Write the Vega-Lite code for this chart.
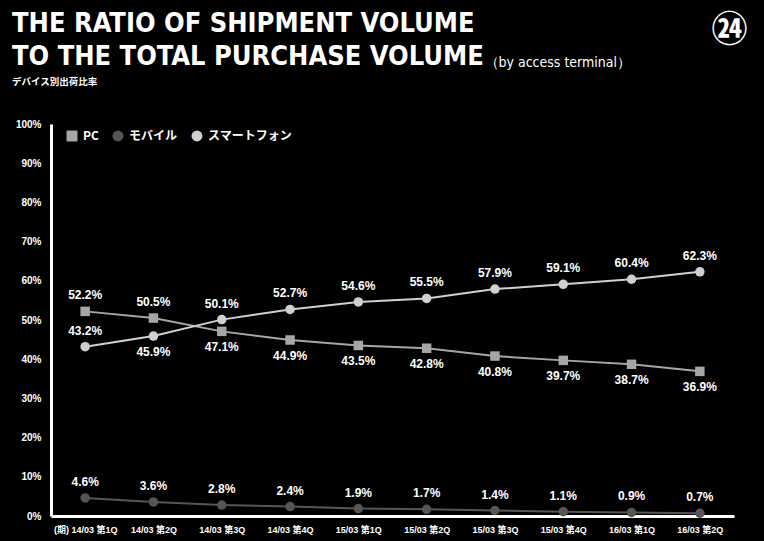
{
  "$schema": "https://vega.github.io/schema/vega-lite/v6.json",
  "width": 683,
  "height": 392,
  "autosize": {"type": "none"},
  "padding": {"left": 51, "top": 124, "right": 30, "bottom": 25},
  "background": "#000000",
  "title": {
    "text": ["THE RATIO OF SHIPMENT VOLUME", "TO THE TOTAL PURCHASE VOLUME"],
    "subtitle": "デバイス別出荷比率",
    "anchor": "start",
    "frame": "group",
    "dx": -39,
    "dy": 105,
    "offset": 30,
    "font": "DejaVu Sans Condensed, sans-serif",
    "fontSize": 27,
    "fontWeight": "bold",
    "lineHeight": 33,
    "color": "#ffffff",
    "subtitleFont": "Noto Sans CJK JP",
    "subtitleFontSize": 9.5,
    "subtitleFontWeight": "bold",
    "subtitleColor": "#ffffff",
    "subtitlePadding": 6
  },
  "config": {
    "view": {"stroke": null},
    "font": "Liberation Sans, Noto Sans CJK JP, sans-serif"
  },
  "data": {
    "values": [
      {"q": "14/03 第1Q", "s": "PC", "v": 52.2},
      {"q": "14/03 第2Q", "s": "PC", "v": 50.5},
      {"q": "14/03 第3Q", "s": "PC", "v": 47.1},
      {"q": "14/03 第4Q", "s": "PC", "v": 44.9},
      {"q": "15/03 第1Q", "s": "PC", "v": 43.5},
      {"q": "15/03 第2Q", "s": "PC", "v": 42.8},
      {"q": "15/03 第3Q", "s": "PC", "v": 40.8},
      {"q": "15/03 第4Q", "s": "PC", "v": 39.7},
      {"q": "16/03 第1Q", "s": "PC", "v": 38.7},
      {"q": "16/03 第2Q", "s": "PC", "v": 36.9},
      {"q": "14/03 第1Q", "s": "モバイル", "v": 4.6},
      {"q": "14/03 第2Q", "s": "モバイル", "v": 3.6},
      {"q": "14/03 第3Q", "s": "モバイル", "v": 2.8},
      {"q": "14/03 第4Q", "s": "モバイル", "v": 2.4},
      {"q": "15/03 第1Q", "s": "モバイル", "v": 1.9},
      {"q": "15/03 第2Q", "s": "モバイル", "v": 1.7},
      {"q": "15/03 第3Q", "s": "モバイル", "v": 1.4},
      {"q": "15/03 第4Q", "s": "モバイル", "v": 1.1},
      {"q": "16/03 第1Q", "s": "モバイル", "v": 0.9},
      {"q": "16/03 第2Q", "s": "モバイル", "v": 0.7},
      {"q": "14/03 第1Q", "s": "スマートフォン", "v": 43.2},
      {"q": "14/03 第2Q", "s": "スマートフォン", "v": 45.9},
      {"q": "14/03 第3Q", "s": "スマートフォン", "v": 50.1},
      {"q": "14/03 第4Q", "s": "スマートフォン", "v": 52.7},
      {"q": "15/03 第1Q", "s": "スマートフォン", "v": 54.6},
      {"q": "15/03 第2Q", "s": "スマートフォン", "v": 55.5},
      {"q": "15/03 第3Q", "s": "スマートフォン", "v": 57.9},
      {"q": "15/03 第4Q", "s": "スマートフォン", "v": 59.1},
      {"q": "16/03 第1Q", "s": "スマートフォン", "v": 60.4},
      {"q": "16/03 第2Q", "s": "スマートフォン", "v": 62.3}
    ]
  },
  "transform": [
    {"calculate": "format(datum.v, '.1f') + '%'", "as": "lbl"}
  ],
  "encoding": {
    "x": {
      "field": "q",
      "type": "ordinal",
      "sort": null,
      "scale": {"type": "point", "padding": 0.5},
      "axis": {
        "title": "㉔",
        "titleX": 678,
        "titleY": -486,
        "titleAngle": 0,
        "titleAlign": "center",
        "titleBaseline": "middle",
        "titleFont": "Noto Sans CJK JP",
        "titleFontSize": 36,
        "titleFontWeight": "bold",
        "titleColor": "#ffffff",
        "labelAngle": 0,
        "labelExpr": "datum.index == 0 ? '(期) ' + datum.label : datum.label",
        "labelFontSize": 9,
        "labelFontWeight": "bold",
        "labelColor": "#ffffff",
        "labelPadding": 9,
        "ticks": false,
        "grid": false,
        "domainColor": "#ffffff",
        "domainWidth": 3
      }
    },
    "y": {
      "field": "v",
      "type": "quantitative",
      "scale": {"domain": [0, 100]},
      "axis": {
        "title": "（by access terminal）",
        "titleX": 433,
        "titleY": -62,
        "titleAngle": 0,
        "titleAlign": "left",
        "titleBaseline": "middle",
        "titleFont": "DejaVu Sans Condensed, sans-serif",
        "titleFontSize": 14,
        "titleFontWeight": "normal",
        "titleColor": "#ffffff",
        "values": [0, 10, 20, 30, 40, 50, 60, 70, 80, 90, 100],
        "labelExpr": "datum.value + '%'",
        "labelFontSize": 10,
        "labelFontWeight": "bold",
        "labelColor": "#ffffff",
        "labelPadding": 10,
        "ticks": false,
        "grid": false,
        "domainColor": "#ffffff",
        "domainWidth": 3
      }
    },
    "color": {
      "field": "s",
      "type": "nominal",
      "scale": {"domain": ["PC", "モバイル", "スマートフォン"], "range": ["#a6a6a6", "#555555", "#d0d0d0"]},
      "legend": {
        "title": null,
        "orient": "none",
        "legendX": 15,
        "legendY": 6,
        "direction": "horizontal",
        "labelColor": "#ffffff",
        "labelFontSize": 12,
        "labelFontWeight": "bold",
        "labelFont": "Noto Sans CJK JP",
        "symbolSize": 120,
        "symbolStrokeWidth": 0,
        "labelOffset": 5,
        "columnPadding": 13
      }
    }
  },
  "layer": [
    {
      "mark": {"type": "line", "strokeWidth": 2}
    },
    {
      "mark": {"type": "point", "filled": true, "opacity": 1, "size": 90},
      "encoding": {
        "shape": {
          "field": "s",
          "type": "nominal",
          "scale": {"domain": ["PC", "モバイル", "スマートフォン"], "range": ["square", "circle", "circle"]}
        }
      }
    },
    {
      "transform": [
        {"filter": "!(datum.s == 'PC' && datum.v < 50) && !(datum.s == 'スマートフォン' && datum.v > 45 && datum.v < 46)"}
      ],
      "mark": {"type": "text", "dy": -16, "fontSize": 12, "fontWeight": "bold", "color": "#ffffff"},
      "encoding": {"text": {"field": "lbl", "type": "nominal"}, "color": {"value": "#ffffff"}}
    },
    {
      "transform": [
        {"filter": "(datum.s == 'PC' && datum.v < 50) || (datum.s == 'スマートフォン' && datum.v > 45 && datum.v < 46)"}
      ],
      "mark": {"type": "text", "dy": 16, "fontSize": 12, "fontWeight": "bold", "color": "#ffffff"},
      "encoding": {"text": {"field": "lbl", "type": "nominal"}, "color": {"value": "#ffffff"}}
    }
  ]
}
